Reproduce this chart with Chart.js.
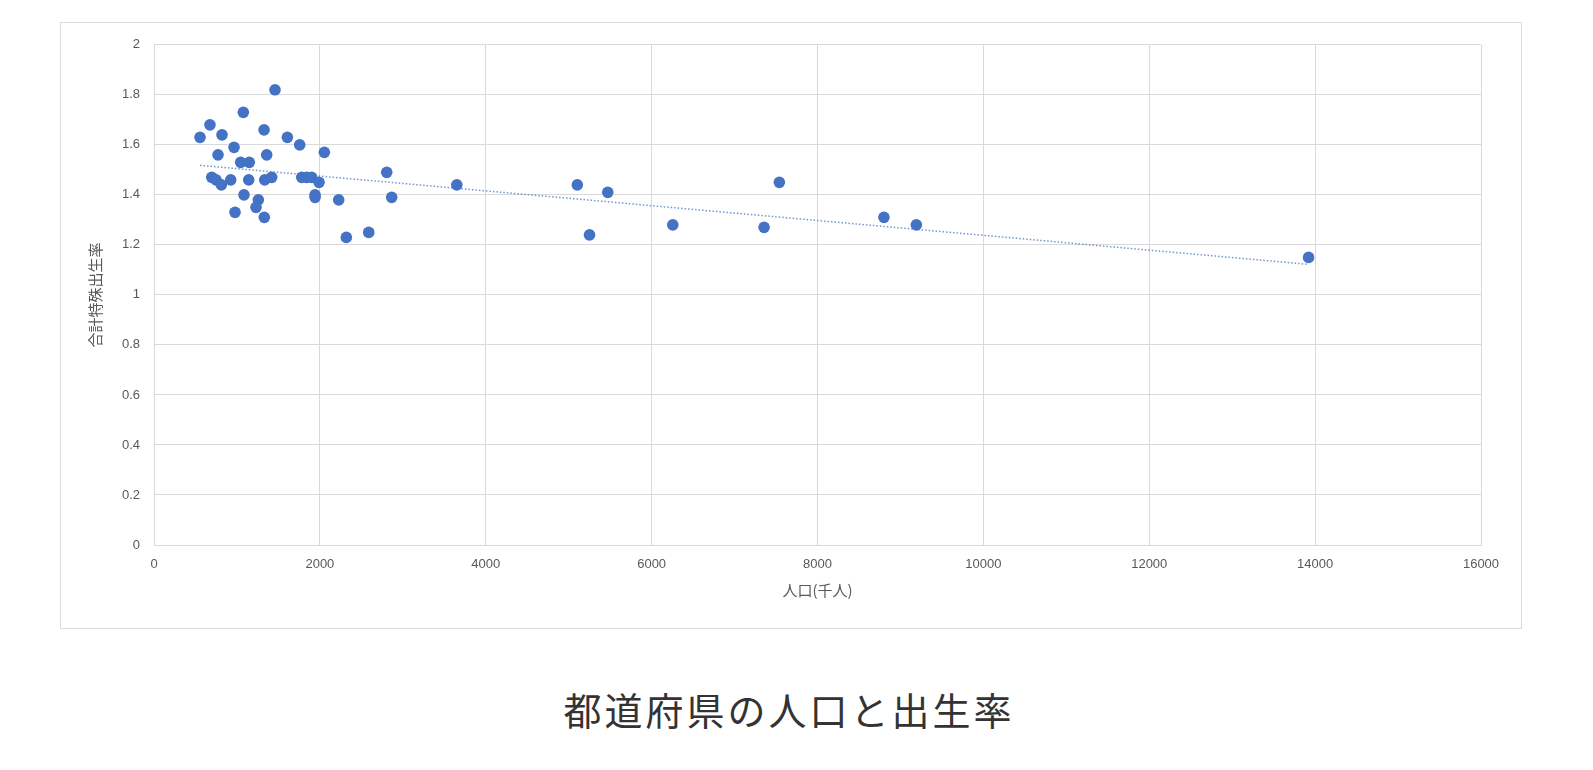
<!DOCTYPE html>
<html lang="ja">
<head>
<meta charset="utf-8">
<title>都道府県の人口と出生率</title>
<script src="https://cdn.jsdelivr.net/npm/chart.js@4.4.1/dist/chart.umd.min.js"></script>
<style>
    body { margin: 0; background: #ffffff; width: 1593px; height: 770px; position: relative; overflow: hidden; }
    .frame {
        position: absolute; left: 60px; top: 22px; width: 1462px; height: 607px;
        box-sizing: border-box; border: 1px solid #dcdcdc; background: #fff;
    }
    .caption {
        position: absolute; left: 789px; top: 708px; transform: translate(-50%, -50%);
        white-space: nowrap; font-family: "Noto Sans CJK JP", sans-serif;
        font-size: 38px; letter-spacing: 3px; color: #333333;
    }
</style>
</head>
<body>
<div class="frame"><canvas id="chart" width="1460" height="605"></canvas></div>
<div class="caption">都道府県の人口と出生率</div>
<script>
// population (thousands) and total fertility rate, one entry per prefecture
const popX = [
    555, 675, 772, 820, 696, 748, 812, 925, 965, 977,
    1077, 1045, 1149, 1085, 1142, 1230, 1258, 1327, 1359, 1335,
    1419, 1330, 1459, 1608, 1757, 1781, 1841, 1901, 1990, 2054,
    1942, 1942, 2227, 2319, 2589, 2806, 2866, 3651, 5104, 5251,
    5471, 6255, 7356, 7540, 8801, 9192, 13921
];
const tfrY = [
    1.63, 1.68, 1.56, 1.64, 1.47, 1.46, 1.44, 1.46, 1.59, 1.33,
    1.73, 1.53, 1.53, 1.40, 1.46, 1.35, 1.38, 1.66, 1.56, 1.46,
    1.47, 1.31, 1.82, 1.63, 1.60, 1.47, 1.47, 1.47, 1.45, 1.57,
    1.40, 1.39, 1.38, 1.23, 1.25, 1.49, 1.39, 1.44, 1.44, 1.24,
    1.41, 1.28, 1.27, 1.45, 1.31, 1.28, 1.15
];

// linear trend line ends
const trendX = [555, 13921];
const trendY = [1.518, 1.122];

// axis ranges
const xTicks = [0, 16000, 2000];
const yTicks = [0, 2, 0.2];

const xTitle = '人口(千人)';
const yTitle = '合計特殊出生率';

const blue = '#4472c4';
const gridColor = '#d9d9d9';
const textColor = '#595959';

const points = popX.map((x, i) => ({ x: x, y: tfrY[i] }));
const trend = trendX.map((x, i) => ({ x: x, y: trendY[i] }));

new Chart(document.getElementById('chart'), {
    type: 'scatter',
    data: {
        datasets: [
            {
                label: '合計特殊出生率',
                data: points,
                backgroundColor: blue,
                borderColor: blue,
                pointRadius: 5.8,
                pointHoverRadius: 5.8,
                borderWidth: 0
            },
            {
                label: '線形近似',
                data: trend,
                showLine: true,
                borderColor: 'rgba(68, 114, 196, 0.75)',
                borderWidth: 1.5,
                borderDash: [1.5, 2],
                pointRadius: 0,
                fill: false
            }
        ]
    },
    options: {
        responsive: false,
        animation: false,
        layout: { padding: { top: 20, right: 40, left: 0, bottom: 3 } },
        plugins: {
            legend: { display: false },
            tooltip: { enabled: false }
        },
        scales: {
            x: {
                type: 'linear',
                min: xTicks[0],
                max: xTicks[1],
                afterFit: (scale) => { scale.height = 80; },
                ticks: {
                    stepSize: xTicks[2],
                    padding: 12,
                    color: textColor,
                    font: { family: "'Liberation Sans', Arial, sans-serif", size: 13 },
                    callback: (v) => String(v)
                },
                grid: { color: gridColor, lineWidth: 1, drawTicks: false },
                border: { color: gridColor },
                title: {
                    display: true,
                    text: xTitle,
                    color: textColor,
                    font: { family: "'Noto Sans CJK JP', sans-serif", size: 15 },
                    padding: { top: 0, bottom: 26 }
                }
            },
            y: {
                type: 'linear',
                min: yTicks[0],
                max: yTicks[1],
                afterFit: (scale) => { scale.width = 93; },
                ticks: {
                    stepSize: yTicks[2],
                    padding: 14,
                    color: textColor,
                    font: { family: "'Liberation Sans', Arial, sans-serif", size: 13 },
                    callback: (v) => String(Math.round(v * 10) / 10)
                },
                grid: { color: gridColor, lineWidth: 1, drawTicks: false },
                border: { color: gridColor },
                title: {
                    display: true,
                    text: yTitle,
                    color: textColor,
                    font: { family: "'Noto Sans CJK JP', sans-serif", size: 15 },
                    padding: { top: 25, bottom: 0 }
                }
            }
        }
    }
});
</script>
</body>
</html>
